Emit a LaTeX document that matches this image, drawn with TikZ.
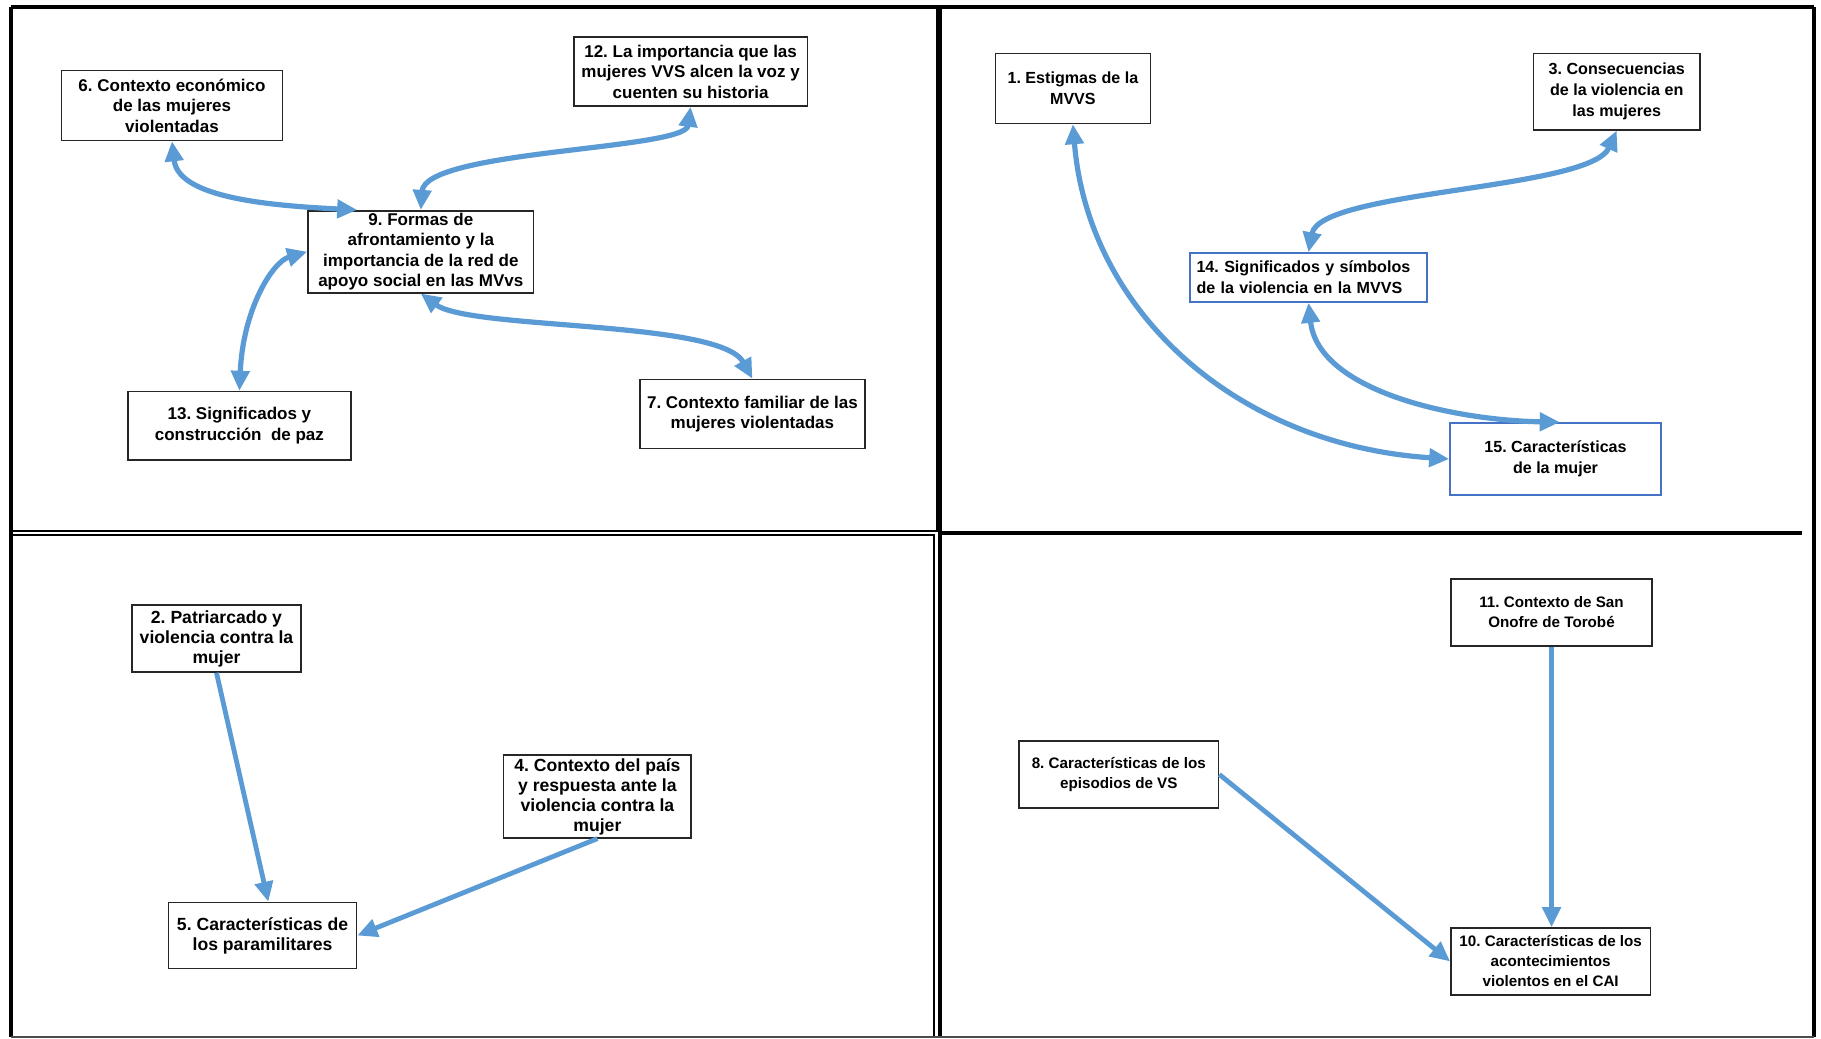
\documentclass[tikz,border=0pt]{standalone}
\usepackage{fontspec}
\setmainfont{Liberation Sans}
\usetikzlibrary{arrows.meta,calc}
\definecolor{arrowblue}{RGB}{91,155,213}
\definecolor{boxblue}{RGB}{68,114,196}
\frenchspacing
\tikzset{
  box/.style={draw=black!85, line width=0.8pt, fill=white, align=center, inner sep=0pt},
  bluebox/.style={box, draw=boxblue},
  ftl/.style={font=\fontsize{8.5pt}{10.3pt}\selectfont\bfseries},
  ftr/.style={font=\fontsize{8.05pt}{10.4pt}\selectfont\bfseries},
  fbl/.style={font=\fontsize{8.8pt}{10pt}\selectfont\bfseries},
  fbr/.style={font=\fontsize{7.6pt}{10pt}\selectfont\bfseries},
  panel/.style={draw=black, line width=2pt},
  innerline/.style={draw=black, line width=1.3pt},
  link/.style={draw=arrowblue, line width=2.4pt, -{Triangle[length=10pt,width=9pt]}},
  dlink/.style={draw=arrowblue, line width=2.6pt, {Triangle[length=10pt,width=9pt]}-{Triangle[length=10pt,width=9pt]}},
}
\begin{document}
\begin{tikzpicture}[x=0.5pt,y=-0.5pt]
\useasboundingbox (0,0) rectangle (1821,1039);
\fill[white] (0,0) rectangle (1821,1039);
% panel frames
\draw[panel] (10.5,7) -- (1814,7);
\draw[panel] (10.5,7) -- (10.5,1037);
\draw[panel] (1814,7) -- (1814,1037);
\draw[innerline] (937,7) -- (937,531) -- (10.5,531);
\draw[innerline] (10.5,535) -- (934,535) -- (934,1037);
\draw[panel] (940,7) -- (940,1037);
\draw[panel] (940,533) -- (1802,533);
\draw[draw=black!70, line width=0.8pt] (10.5,1037) -- (1814,1037);

% ---- top left
\node[box,ftl, minimum width=110.4pt, minimum height=35pt] (n6) at (172,105.5) {6. Contexto económico\\de las mujeres\\violentadas};
\node[box,ftl, minimum width=116.9pt, minimum height=34.4pt] (n12) at (690.6,71.6) {12. La importancia que las\\mujeres VVS alcen la voz y\\cuenten su historia};
\node[box,ftl, minimum width=112.8pt, minimum height=41pt] (n9) at (420.8,251.7) {9. Formas de\\afrontamiento y la\\importancia de la red de\\apoyo social en las MVvs};
\node[box,ftl, minimum width=111.4pt, minimum height=34.1pt] (n13) at (239.4,425.7) {13. Significados y\\construcción~ de paz};
\node[box,ftl, minimum width=112.7pt, minimum height=34.5pt] (n7) at (752.4,414) {7. Contexto familiar de las\\mujeres violentadas};

\draw[dlink] (n6.south) .. controls (178,195) and (255,205) .. ($(n9.north west)!0.22!(n9.north east)$);
\draw[dlink] (n12.south) .. controls (685,150) and (425,150) .. (n9.north);
\draw[dlink] (n9.west) .. controls (272,262) and (243,310) .. (n13.north);
\draw[dlink] (n9.south) .. controls (470,330) and (720,320) .. (n7.north);

% ---- top right
\node[box,ftr, minimum width=77.6pt, minimum height=35pt] (n1) at (1072.9,88.4) {1. Estigmas de la\\MVVS};
\node[box,ftr, minimum width=83.3pt, minimum height=38.2pt] (n3) at (1616.7,91.6) {3. Consecuencias\\de la violencia en\\las mujeres};
\node[bluebox,ftr, text width=112pt, inner xsep=3.35pt, minimum height=24.5pt, align=left] (n14) at (1308.5,277.5) {14. Significados y símbolos\\de la violencia en la MVVS};
\node[bluebox,ftr, minimum width=105.5pt, minimum height=36pt] (n15) at (1555.5,459) {15. Características\\de la mujer};

\draw[dlink] (n1.south) .. controls (1088,310) and (1235,445) .. (n15.west);
\draw[dlink] (n3.south) .. controls (1590,190) and (1320,190) .. (n14.north);
\draw[dlink] (n14.south) .. controls (1318,390) and (1450,420) .. ($(n15.north west)!0.52!(n15.north east)$);

% ---- bottom left
\node[box,fbl, minimum width=84.5pt, minimum height=33.5pt] (n2) at (216.5,638.5) {2. Patriarcado y\\violencia contra la\\mujer};
\node[box,fbl, minimum width=93.8pt, minimum height=41.4pt] (n4) at (597.4,796.4) {4. Contexto del país\\y respuesta ante la\\violencia contra la\\mujer};
\node[box,fbl, minimum width=94pt, minimum height=33pt] (n5) at (262.6,935.5) {5. Características de\\los paramilitares};

\draw[link] (n2.south) -- ($(n5.north west)!0.53!(n5.north east)$);
\draw[link] (n4.south) -- (n5.east);

% ---- bottom right
\node[box,fbr, minimum width=100.5pt, minimum height=33.4pt] (n11) at (1551.5,612.4) {11. Contexto de San\\Onofre de Torobé};
\node[box,fbr, minimum width=99.8pt, minimum height=33.5pt] (n8) at (1118.8,774.5) {8. Características de los\\episodios de VS};
\node[box,fbr, minimum width=99.8pt, minimum height=33.4pt] (n10) at (1550.7,961.4) {10. Características de los\\acontecimientos\\violentos en el CAI};

\draw[link] (n11.south) -- (n11.south |- n10.north);
\draw[link] (n8.east) -- (n10.west);
\end{tikzpicture}
\end{document}
